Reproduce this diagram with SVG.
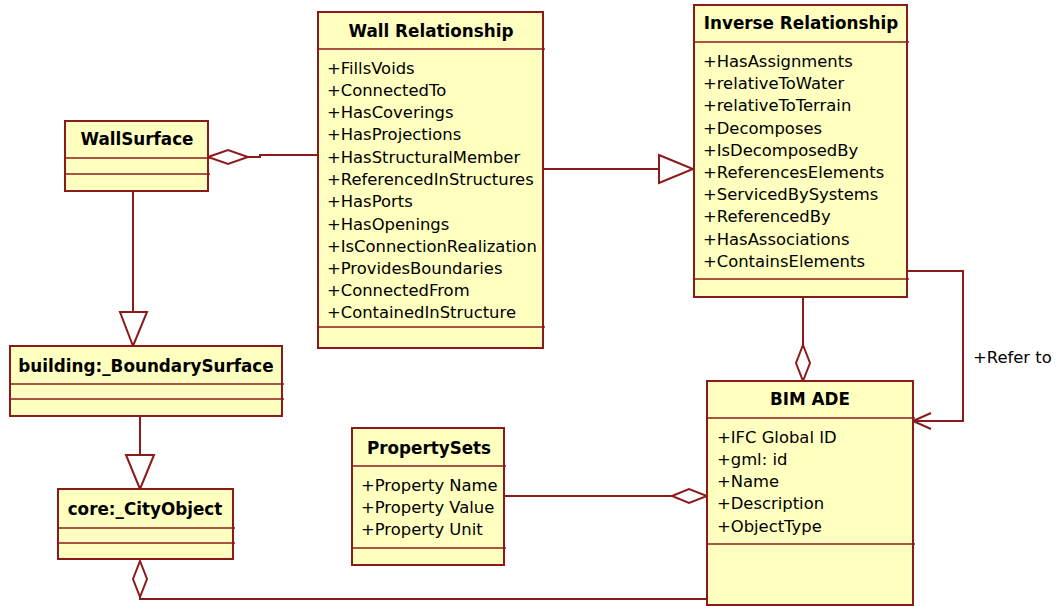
<svg xmlns="http://www.w3.org/2000/svg" width="1057" height="606" viewBox="0 0 1057 606">
<style>
.box{fill:#FFFFC0;stroke:#8B1A1A;stroke-width:2}
.sep{stroke:#8B1A1A;stroke-width:1.6;fill:none}
.ln{stroke:#8B1A1A;stroke-width:2;fill:none}
.hd{fill:#FFFFFF;stroke:#8B1A1A;stroke-width:2}
.t{font-family:"DejaVu Sans",Verdana,sans-serif;font-weight:bold;font-size:16.8px;fill:#000;text-anchor:middle}
.a{font-family:"DejaVu Sans",Verdana,sans-serif;font-size:16.4px;fill:#000}
</style>
<rect width="1057" height="606" fill="#FFFFFF"/>
<g id="connectors">
  <!-- WallSurface <>— Wall Relationship -->
  <polyline class="ln" points="248,157 260,157 260,155 318,155"/>
  <polygon class="hd" points="208,157 228,150 248,157 228,164"/>
  <!-- Wall Relationship -> Inverse Relationship (generalization) -->
  <line class="ln" x1="543" y1="169" x2="659" y2="169"/>
  <polygon class="hd" points="659,155 693,169 659,183"/>
  <!-- Inverse <>— BIM ADE -->
  <line class="ln" x1="803" y1="297" x2="803" y2="345"/>
  <polygon class="hd" points="803,345 810,363 803,381 796,363"/>
  <!-- Refer to -->
  <polyline class="ln" points="907,271 963,271 963,421 913,421"/>
  <polyline class="ln" points="931,413 913,421 931,429"/>
  <text class="a" x="973" y="363">+Refer to</text>
  <!-- PropertySets —<> BIM ADE -->
  <line class="ln" x1="504" y1="496" x2="672" y2="496"/>
  <polygon class="hd" points="672,496 689,489 707,496 689,503"/>
  <!-- WallSurface -> building (generalization) -->
  <line class="ln" x1="133" y1="191" x2="133" y2="312"/>
  <polygon class="hd" points="120,312 147,312 133,346"/>
  <!-- building -> core (generalization) -->
  <line class="ln" x1="140" y1="416" x2="140" y2="455"/>
  <polygon class="hd" points="126,455 154,455 140,489"/>
  <!-- core <>— BIM ADE -->
  <polyline class="ln" points="140,597 140,599 707,599"/>
  <polygon class="hd" points="140,561 147,579 140,597 133,579"/>
</g>
<g id="WallSurface">
  <rect class="box" x="65" y="121" width="143" height="70"/>
  <line class="sep" x1="65" y1="158" x2="210" y2="158"/>
  <line class="sep" x1="65" y1="174" x2="210" y2="174"/>
  <text class="t" x="137" y="145">WallSurface</text>
</g>
<g id="WallRelationship">
  <rect class="box" x="318" y="12" width="225" height="336"/>
  <line class="sep" x1="318" y1="49" x2="545" y2="49"/>
  <line class="sep" x1="318" y1="327" x2="545" y2="327"/>
  <text class="t" x="431" y="37">Wall Relationship</text>
  <text class="a" x="327" y="74">+FillsVoids</text>
  <text class="a" x="327" y="96">+ConnectedTo</text>
  <text class="a" x="327" y="118">+HasCoverings</text>
  <text class="a" x="327" y="140">+HasProjections</text>
  <text class="a" x="327" y="163">+HasStructuralMember</text>
  <text class="a" x="327" y="185">+ReferencedInStructures</text>
  <text class="a" x="327" y="207">+HasPorts</text>
  <text class="a" x="327" y="230">+HasOpenings</text>
  <text class="a" x="327" y="252">+IsConnectionRealization</text>
  <text class="a" x="327" y="274">+ProvidesBoundaries</text>
  <text class="a" x="327" y="296">+ConnectedFrom</text>
  <text class="a" x="327" y="318">+ContainedInStructure</text>
</g>
<g id="InverseRelationship">
  <rect class="box" x="694" y="5" width="213" height="292"/>
  <line class="sep" x1="694" y1="42" x2="909" y2="42"/>
  <line class="sep" x1="694" y1="279" x2="909" y2="279"/>
  <text class="t" x="801" y="29">Inverse Relationship</text>
  <text class="a" x="703" y="67">+HasAssignments</text>
  <text class="a" x="703" y="89">+relativeToWater</text>
  <text class="a" x="703" y="111">+relativeToTerrain</text>
  <text class="a" x="703" y="134">+Decomposes</text>
  <text class="a" x="703" y="156">+IsDecomposedBy</text>
  <text class="a" x="703" y="178">+ReferencesElements</text>
  <text class="a" x="703" y="200">+ServicedBySystems</text>
  <text class="a" x="703" y="222">+ReferencedBy</text>
  <text class="a" x="703" y="245">+HasAssociations</text>
  <text class="a" x="703" y="267">+ContainsElements</text>
</g>
<g id="BoundarySurface">
  <rect class="box" x="10" y="346" width="272" height="70"/>
  <line class="sep" x1="10" y1="384" x2="284" y2="384"/>
  <line class="sep" x1="10" y1="399" x2="284" y2="399"/>
  <text class="t" x="146" y="372">building:_BoundarySurface</text>
</g>
<g id="CityObject">
  <rect class="box" x="58" y="489" width="175" height="70"/>
  <line class="sep" x1="58" y1="528" x2="235" y2="528"/>
  <line class="sep" x1="58" y1="543" x2="235" y2="543"/>
  <text class="t" x="145" y="515">core:_CityObject</text>
</g>
<g id="PropertySets">
  <rect class="box" x="352" y="428" width="152" height="137"/>
  <line class="sep" x1="352" y1="466" x2="506" y2="466"/>
  <line class="sep" x1="352" y1="548" x2="506" y2="548"/>
  <text class="t" x="429" y="454">PropertySets</text>
  <text class="a" x="361" y="491">+Property Name</text>
  <text class="a" x="361" y="513">+Property Value</text>
  <text class="a" x="361" y="535">+Property Unit</text>
</g>
<g id="BIMADE">
  <rect class="box" x="707" y="381" width="206" height="224"/>
  <line class="sep" x1="707" y1="418" x2="915" y2="418"/>
  <line class="sep" x1="707" y1="544" x2="915" y2="544"/>
  <text class="t" x="810" y="405">BIM ADE</text>
  <text class="a" x="717" y="443">+IFC Global ID</text>
  <text class="a" x="717" y="465">+gml: id</text>
  <text class="a" x="717" y="487">+Name</text>
  <text class="a" x="717" y="509">+Description</text>
  <text class="a" x="717" y="532">+ObjectType</text>
</g>
</svg>
